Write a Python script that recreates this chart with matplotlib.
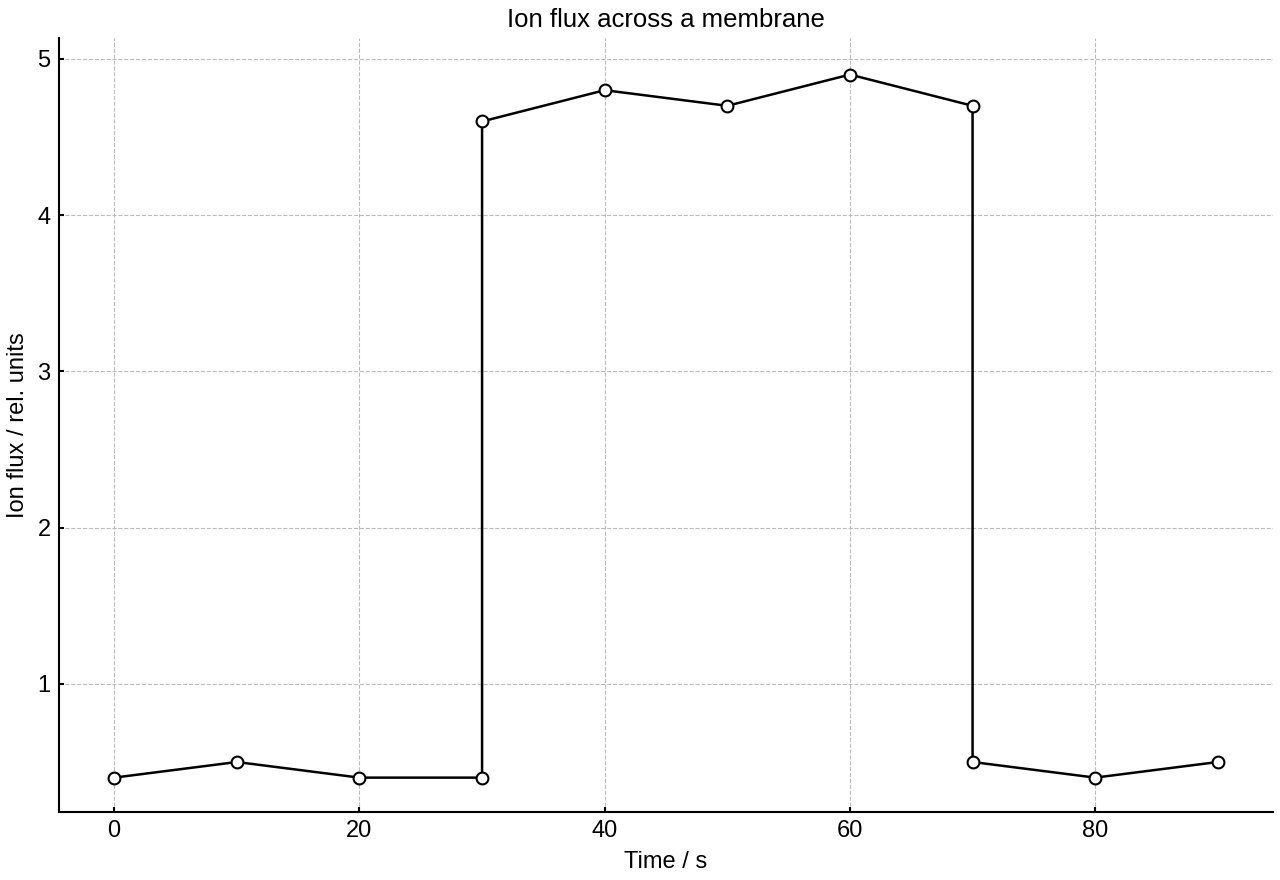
import numpy as np
import matplotlib.pyplot as plt

plt.rcParams['font.family'] = ['Liberation Sans', 'DejaVu Sans']

time_s = [0, 10, 20, 30, 30, 40, 50, 60, 70, 70, 80, 90]
flux = [0.4, 0.5, 0.4, 0.4, 4.6, 4.8, 4.7, 4.9, 4.7, 0.5, 0.4, 0.5]

fig = plt.figure(figsize=(12.8, 8.8), dpi=100)
ax = fig.add_axes([59/1280, 1 - 812/880, (1273-59)/1280, (812-38)/880])
ax.plot(time_s, flux, color='black', lw=1.8, marker='o', markersize=8.5,
        markerfacecolor='white', markeredgecolor='black', markeredgewidth=1.5, zorder=3)
ax.set_xlim(-4.5, 94.5)
ax.set_ylim(0.18, 5.134)
ax.set_xticks([0, 20, 40, 60, 80])
ax.set_yticks([1, 2, 3, 4, 5])
ax.grid(True, ls='--', color='#bbbbbb', lw=0.8)
ax.spines['top'].set_visible(False)
ax.spines['right'].set_visible(False)
ax.spines['left'].set_linewidth(1.5)
ax.spines['bottom'].set_linewidth(1.5)
ax.tick_params(direction='in', length=3.5, width=1.5, labelsize=17, pad=6)
ax.set_xlabel('Time / s', size=17, labelpad=6)
ax.set_ylabel('Ion flux / rel. units', size=17, labelpad=6)
ax.set_title('Ion flux across a membrane', size=18.5, pad=8)
fig.savefig('out.png', dpi=100)
